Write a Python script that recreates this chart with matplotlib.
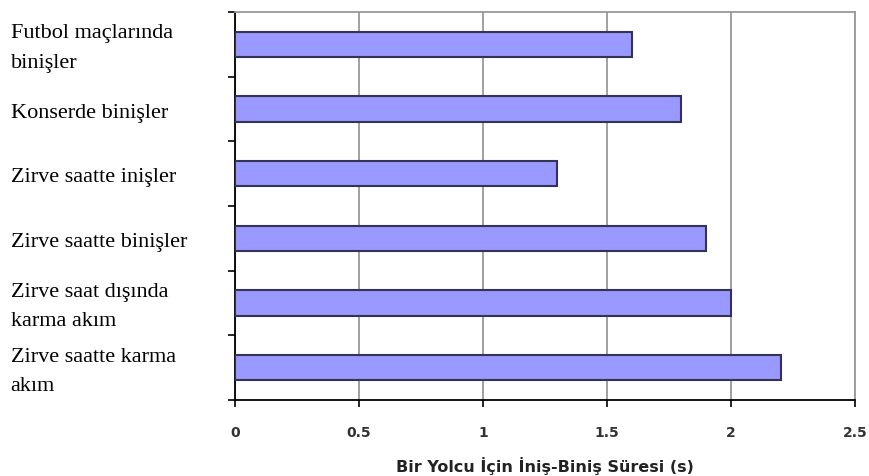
import numpy as np
import matplotlib.pyplot as plt

# Yolcu başına iniş-biniş süreleri (saniye)
kategoriler = [
    "Futbol maçlarında\nbinişler",
    "Konserde binişler",
    "Zirve saatte inişler",
    "Zirve saatte binişler",
    "Zirve saat dışında\nkarma akım",
    "Zirve saatte karma\nakım",
]
sureler = [1.6, 1.8, 1.3, 1.9, 2.0, 2.2]
x_ticks = [0, 0.5, 1, 1.5, 2, 2.5]
x_labels = ["0", "0.5", "1", "1.5", "2", "2.5"]

fig = plt.figure(figsize=(8.69, 4.77), dpi=100)
ax = fig.add_axes([0.2704, 0.1593, 0.7135, 0.8134])

y = np.arange(len(kategoriler))
ax.barh(y, sureler, height=0.39, color="#9999ff", edgecolor="#333355",
        linewidth=1.5, zorder=3)

ax.set_xlim(0, 2.5)
ax.set_ylim(len(kategoriler) - 0.5, -0.5)

# dikey izgara
ax.set_xticks(x_ticks, x_labels)
ax.grid(axis="x", color="#999999", linewidth=1.3, zorder=0)
ax.grid(axis="y", visible=False)

# y ekseni: sadece kategori sınırlarında çentik
ax.set_yticks(np.arange(-0.5, len(kategoriler), 1.0))
ax.set_yticklabels([])
ax.tick_params(axis="y", direction="out", length=5, width=1.2, color="black")
ax.tick_params(axis="x", direction="out", length=5, width=1.2, color="black",
               labelsize=10, labelcolor="#333333", pad=13)
for lbl in ax.get_xticklabels():
    lbl.set_fontweight("bold")

for side in ["top", "right"]:
    ax.spines[side].set_color("#999999")
    ax.spines[side].set_linewidth(1.3)
for side in ["left", "bottom"]:
    ax.spines[side].set_color("black")
    ax.spines[side].set_linewidth(1.3)

# kategori etiketleri sola hizalı
for i, k in enumerate(kategoriler):
    ax.text(-0.362, i + 0.05, k, transform=ax.get_yaxis_transform(),
            ha="left", va="center", fontsize=16, linespacing=1.75,
            family="Liberation Serif")

ax.set_xlabel("Bir Yolcu İçin İniş-Biniş Süresi (s)", fontsize=11.5,
              fontweight="bold", color="#222222", labelpad=12)

fig.savefig("out.png", dpi=100)
